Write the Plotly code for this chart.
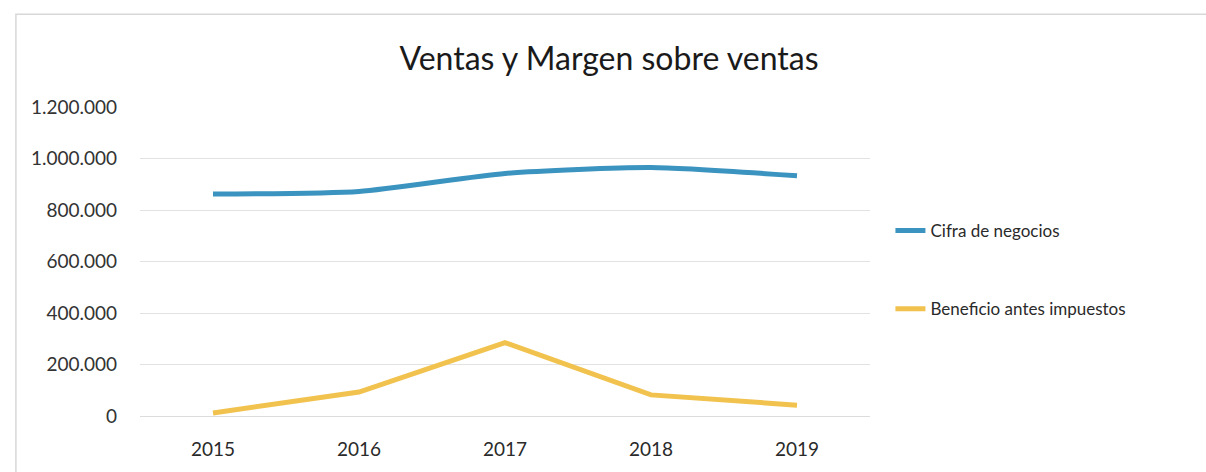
import plotly.graph_objects as go

years = ["2015", "2016", "2017", "2018", "2019"]
cifra_negocios = [862000, 872000, 942000, 965000, 933000]
beneficio_antes_impuestos = [12000, 93000, 285000, 82000, 42000]

blue = "#3b93bf"
gold = "#f1c24d"
font_family = "Lato, 'Open Sans', 'Liberation Sans', sans-serif"

fig = go.Figure()
fig.add_trace(go.Scatter(
    x=years, y=cifra_negocios, mode="lines", name="Cifra de negocios",
    legendgroup="a",
    line=dict(color=blue, width=5, shape="spline", smoothing=0.6),
))
fig.add_trace(go.Scatter(
    x=years, y=beneficio_antes_impuestos, mode="lines",
    name="Beneficio antes impuestos", legendgroup="b",
    line=dict(color=gold, width=5),
))

fig.update_layout(
    width=1206, height=472,
    paper_bgcolor="white", plot_bgcolor="white",
    separators=",.",
    margin=dict(l=140, r=336, t=107, b=56),
    title=dict(text="Ventas y Margen sobre ventas", x=0.505, xanchor="center",
               y=0.875, yanchor="middle",
               font=dict(family=font_family, size=32, color="#1a1a1a")),
    font=dict(family=font_family, size=16, color="#3a3a3a"),
    xaxis=dict(
        type="category", range=[-0.5, 4.5], showgrid=False,
        showline=True, linecolor="#dcdcdc", linewidth=1,
        ticks="", ticklabelstandoff=16,
        tickfont=dict(size=19, color="#2a2a2a"),
    ),
    yaxis=dict(
        range=[0, 1200000], dtick=200000, tickformat=",d",
        showgrid=True, gridcolor="#e2e2e2", gridwidth=1,
        zeroline=False, showline=False, ticks="", ticklabelstandoff=22,
        tickfont=dict(size=19, color="#333333"),
    ),
    legend=dict(
        x=1.028, y=0.657, xanchor="left", yanchor="top",
        orientation="v", tracegroupgap=53,
        font=dict(size=17, color="#2a2a2a"),
        bgcolor="rgba(0,0,0,0)", itemwidth=30,
    ),
    showlegend=True,
)

# Thin outer frame around the chart area
fig.add_shape(type="rect", xref="paper", yref="paper",
              x0=-0.17, x1=1.52, y0=-0.3, y1=1.3,
              line=dict(color="#d8d8d8", width=1.5), layer="below")

fig.write_html("out.html")
